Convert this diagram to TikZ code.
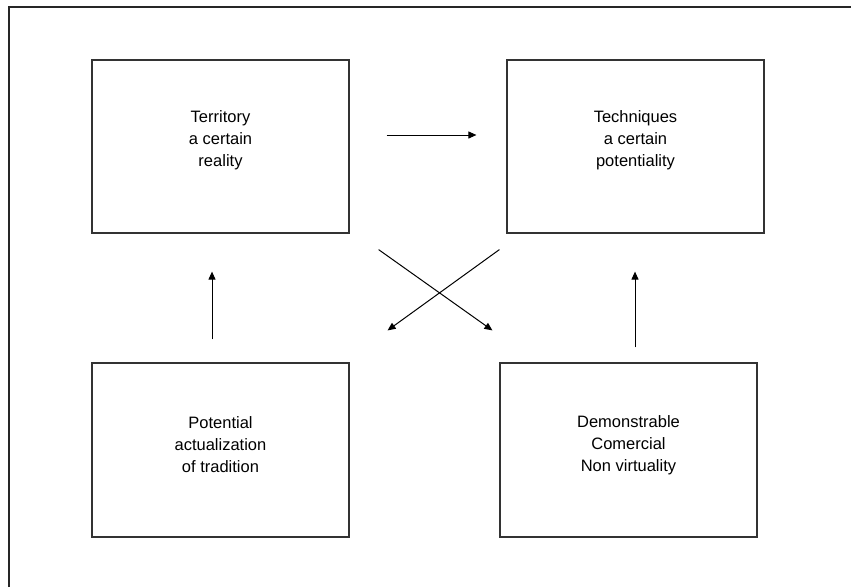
\documentclass[tikz,border=0pt]{standalone}
\usepackage{fontspec}
\setmainfont{Liberation Sans}
\usetikzlibrary{arrows.meta}
\tikzset{
  box/.style={draw=black!80, line width=1.2pt, minimum width=257pt},
  txt/.style={align=center, font=\fontsize{16.5}{22}\selectfont},
  arr/.style={line width=1pt, -{Triangle[length=8pt,width=7pt]}}
}
\begin{document}
\begin{tikzpicture}[x=1pt,y=-1pt]
        \useasboundingbox (0,0) rectangle (851,587);
        \draw[line width=1.3pt, black!85] (9,587) -- (9,7) -- (851,7);
        \node[box, minimum height=173pt] (terr) at (220.5,146.5) {};
        \node[box, minimum height=173pt] (tech) at (635.5,146.5) {};
        \node[box, minimum height=174pt] (pot) at (220.5,450) {};
        \node[box, minimum height=174pt] (dem) at (628.5,450) {};
        \node[txt] (terrtxt) at ([yshift=6pt]terr.center) {Territory\\a certain\\reality};
        \node[txt] (techtxt) at ([yshift=6pt]tech.center) {Techniques\\a certain\\potentiality};
        \node[txt] (pottxt) at ([yshift=5pt]pot.center) {Potential\\actualization\\of tradition};
        \node[txt] (demtxt) at ([yshift=5pt]dem.center) {Demonstrable\\Comercial\\Non virtuality};
        \draw[arr] ([shift={(37,-11.5)}]terr.east) -- ([shift={(-30,-11.5)}]tech.west);
        \draw[arr] ([shift={(-8.5,-23)}]pot.north) -- ([shift={(-8.5,38)}]terr.south);
        \draw[arr] ([shift={(6.5,-15)}]dem.north) -- ([shift={(-0.5,38)}]tech.south);
        \draw[arr] ([shift={(29,16)}]terr.south east) -- ([shift={(-7,-32)}]dem.north west);
        \draw[arr] ([shift={(-7,16)}]tech.south west) -- ([shift={(38,-32)}]pot.north east);
      \end{tikzpicture}
\end{document}
